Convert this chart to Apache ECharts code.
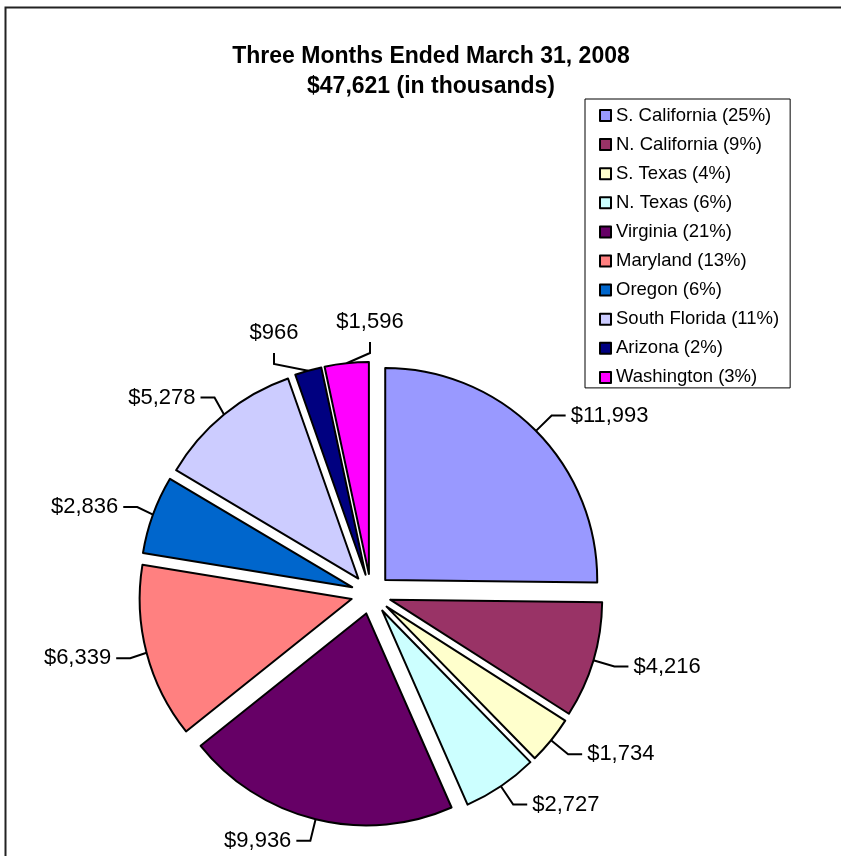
<!DOCTYPE html>
<html>
<head>
<meta charset="utf-8">
<script src="https://cdn.jsdelivr.net/npm/echarts@6/dist/echarts.min.js"></script>
<style>html,body{margin:0;padding:0;background:#fff;}#c{width:841px;height:856px;}</style>
</head>
<body>
<div id="c"></div>
<script>
var categories = ['S. California','N. California','S. Texas','N. Texas','Virginia','Maryland','Oregon','South Florida','Arizona','Washington'];
var values = [11993, 4216, 1734, 2727, 9936, 6339, 2836, 5278, 966, 1596];
var colors = ['#9999FF','#993366','#FFFFCC','#CCFFFF','#660066','#FF8080','#0066CC','#CCCCFF','#000080','#FF00FF'];
var titleLines = ['Three Months Ended March 31, 2008', '$47,621 (in thousands)'];

var total = values.reduce(function(a,b){return a+b;},0);
function fmt(v){return '$' + v.toString().replace(/\B(?=(\d{3})+(?!\d))/g, ',');}

var EXPLODE = 20;
// explosion offset of each slice (clockwise from 12 o'clock)
var offsets = (function(){
  var out = [], cum = 0;
  values.forEach(function(v){
    var th = 2*Math.PI*(cum + v/2)/total;
    out.push([EXPLODE*Math.sin(th), -EXPLODE*Math.cos(th)]);
    cum += v;
  });
  return out;
})();

// small labels at the top are placed above their slices, as in the reference
var labelTargets = {8: [274, 333], 9: [370, 322]};

var chart = echarts.init(document.getElementById('c'), null, {renderer:'canvas'});
chart.setOption({
  animation: false,
  backgroundColor: '#fff',
  graphic: [{
    type: 'rect', shape: {x: 5.5, y: 7.5, width: 900, height: 900},
    style: {fill: 'none', stroke: '#222', lineWidth: 2}, silent: true, z: 100
  }],
  title: {
    text: titleLines.join('\n'),
    left: 426, top: 37, textAlign: 'center',
    textStyle: {fontFamily: 'Liberation Sans, Arial', fontWeight: 'bold', fontSize: 23, lineHeight: 30, color: '#000'}
  },
  legend: {
    orient: 'vertical', left: 585, top: 99,
    backgroundColor: '#fff',
    borderColor: '#000', borderWidth: 1,
    padding: [7, 11, 1, 14],
    itemWidth: 11, itemHeight: 11, itemGap: 10.1,
    icon: 'rect',
    selectedMode: false,
    itemStyle: {borderColor: '#000', borderWidth: 2},
    textStyle: {fontFamily: 'Liberation Sans, Arial', fontSize: 18.5, color: '#000', padding: [0,0,0,0]},
    formatter: function(name){
      var i = categories.indexOf(name);
      return name + ' (' + Math.round(values[i]/total*100) + '%)';
    },
    data: categories
  },
  series: [{
    type: 'pie',
    center: [371, 594],
    radius: [0, 212],
    startAngle: 90,
    clockwise: true,
    selectedMode: 'multiple',
    selectedOffset: EXPLODE,
    avoidLabelOverlap: true,
    itemStyle: {borderColor: '#000', borderWidth: 2},
    label: {
      show: true, position: 'outside',
      formatter: function(p){return fmt(p.value);},
      fontFamily: 'Liberation Sans, Arial', fontSize: 22, color: '#000'
    },
    labelLine: {show: true, length: 22, length2: 14, lineStyle: {color: '#000', width: 2}},
    labelLayout: function(p){
      var t = labelTargets[p.dataIndex];
      if (!t) return {};
      var o = offsets[p.dataIndex];
      var r = p.labelRect;
      var tx = t[0] - o[0], ty = t[1] - o[1];
      var res = {dx: tx - (r.x + r.width/2), dy: ty - (r.y + r.height/2)};
      if (p.labelLinePoints && p.labelLinePoints[0]) {
        var p0 = p.labelLinePoints[0];
        res.labelLinePoints = [[p0[0], p0[1]], [tx, ty + 31], [tx, ty + 20]];
      }
      return res;
    },
    emphasis: {disabled: true},
    data: categories.map(function(c, i){
      return {name: c, value: values[i], selected: true, itemStyle: {color: colors[i]}};
    })
  }]
});
</script>
</body>
</html>
